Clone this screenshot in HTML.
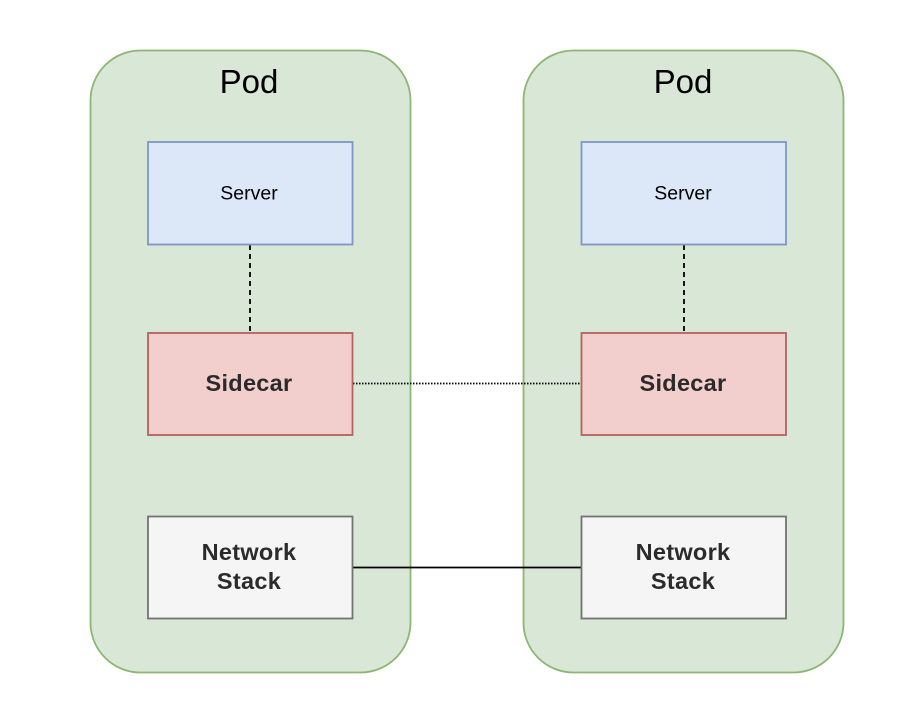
<!DOCTYPE html>
<html>
<head>
<meta charset="utf-8">
<style>
html,body{margin:0;padding:0;background:#fff;width:922px;height:724px;overflow:hidden}
svg{display:block}
text{text-anchor:middle}
.pod{font:33px "Liberation Sans",sans-serif;fill:#000}
.srv{font:19.500px "Liberation Sans",sans-serif;fill:#000}
.b{font:bold 23.500px "Liberation Sans",sans-serif;fill:#2b2b2b;letter-spacing:.3px}
</style>
</head>
<body>
<svg width="922" height="724" viewBox="0 0 922 724" xmlns="http://www.w3.org/2000/svg">
<rect x="90.500" y="50.500" width="320" height="622" rx="50" fill="#d9e7d6" stroke="#8db673" stroke-width="1.800"/>
<rect x="523.500" y="50.500" width="320" height="622" rx="50" fill="#d9e7d6" stroke="#8db673" stroke-width="1.800"/>

<line x1="250" y1="245" x2="250" y2="332" stroke="#000" stroke-width="1.800" stroke-dasharray="5 4"/>
<line x1="684" y1="245" x2="684" y2="332" stroke="#000" stroke-width="1.800" stroke-dasharray="5 4"/>
<line x1="353" y1="383.500" x2="582" y2="383.500" stroke="#000" stroke-width="1.800" stroke-dasharray="1.500 1.500"/>
<line x1="353" y1="567.500" x2="582" y2="567.500" stroke="#000" stroke-width="1.800"/>

<rect x="148" y="142" width="204.500" height="102.500" fill="#dce7f8" stroke="#7c97c6" stroke-width="1.800"/>
<rect x="581.500" y="142" width="204.500" height="102.500" fill="#dce7f8" stroke="#7c97c6" stroke-width="1.800"/>
<rect x="148" y="333" width="204.500" height="102" fill="#f2cfcd" stroke="#b5615c" stroke-width="1.800"/>
<rect x="581.500" y="333" width="204.500" height="102" fill="#f2cfcd" stroke="#b5615c" stroke-width="1.800"/>
<rect x="148" y="516.500" width="204.500" height="102" fill="#f5f5f5" stroke="#737373" stroke-width="1.800"/>
<rect x="581.500" y="516.500" width="204.500" height="102" fill="#f5f5f5" stroke="#737373" stroke-width="1.800"/>

<text class="pod" x="249" y="93">Pod</text>
<text class="pod" x="683" y="93">Pod</text>
<text class="srv" x="249" y="199.500">Server</text>
<text class="srv" x="683" y="199.500">Server</text>
<text class="b" x="249" y="391">Sidecar</text>
<text class="b" x="683" y="391">Sidecar</text>
<text class="b" x="249" y="560">Network</text>
<text class="b" x="249" y="589">Stack</text>
<text class="b" x="683" y="560">Network</text>
<text class="b" x="683" y="589">Stack</text>
</svg>
</body>
</html>
